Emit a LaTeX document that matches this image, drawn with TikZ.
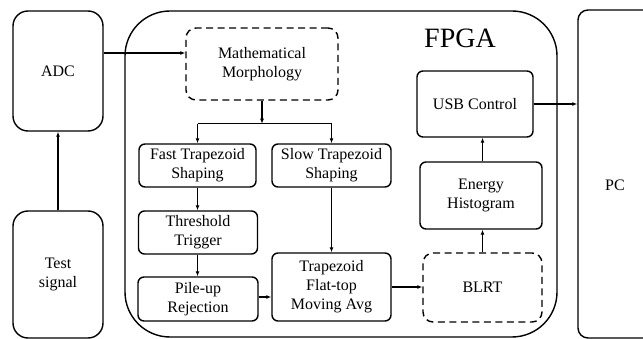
\documentclass[tikz,border=0pt]{standalone}
\usepackage{fontspec}
\setmainfont{Liberation Serif}
\usetikzlibrary{arrows.meta,calc}
\begin{document}
\begin{tikzpicture}[x=1pt,y=-1pt,
  box/.style={draw,line width=1.4pt,rounded corners=6pt,align=center,inner sep=0pt,
    font=\fontsize{16}{19}\selectfont},
  dbox/.style={box,dash pattern=on 7pt off 4.5pt,rounded corners=10pt},
  arr/.style={line width=1.3pt,-{Latex[length=5pt,width=4pt]}},
  ln/.style={line width=1.3pt}]
\useasboundingbox (0,0) rectangle (643,339);
\begin{scope}
\clip (0,0) rectangle (643,339);
\node[box,rounded corners=10pt,minimum width=100pt,minimum height=328pt] (PC) at (628,174) {};
\end{scope}
\node[font=\fontsize{16}{19}\selectfont] (PClabel) at (615,185) {PC};
\node[box,rounded corners=15pt,minimum width=90pt,minimum height=120pt] (ADC) at (58,71) {ADC};
\node[box,rounded corners=15pt,minimum width=90pt,minimum height=127pt] (Test) at (58,274.5) {Test\\signal};
\node[box,rounded corners=45pt,minimum width=432pt,minimum height=326pt] (FPGA) at (341,174) {};
\node[font=\fontsize{28}{32}\selectfont] (FPGAlabel) at (460,38) {FPGA};
\node[dbox,minimum width=152pt,minimum height=72pt] (MM) at (262,64) {Mathematical\\Morphology};
\node[box,minimum width=117pt,minimum height=43pt] (Fast) at (197.5,165.5) {Fast Trapezoid\\Shaping};
\node[box,minimum width=119pt,minimum height=43pt] (Slow) at (331.5,165.5) {Slow Trapezoid\\Shaping};
\node[box,minimum width=119pt,minimum height=43pt] (Thr) at (198,232.5) {Threshold\\Trigger};
\node[box,minimum width=120pt,minimum height=44pt] (Pile) at (198,299) {Pile-up\\Rejection};
\node[box,minimum width=119pt,minimum height=68pt] (TFMA) at (331.5,287) {Trapezoid\\Flat-top\\Moving Avg};
\node[dbox,minimum width=119pt,minimum height=69pt] (BLRT) at (482.5,287.5) {BLRT};
\node[box,minimum width=122pt,minimum height=67pt] (Energy) at (481,195.5) {Energy\\Histogram};
\node[box,minimum width=116pt,minimum height=66pt] (USB) at (475,104) {USB Control};
% connectors
\draw[arr] ([yshift=18pt]ADC.east) -- ([yshift=18pt]ADC.east -| MM.west);
\draw[arr] (Test.north) -- (ADC.south);
\coordinate (split) at ($(MM.south)+(0,23)$);
\draw[arr] (MM.south) -- (split);
\draw[ln] (Fast.north |- split) -- (Slow.north |- split);
\draw[arr] (Fast.north |- split) -- (Fast.north);
\draw[arr] (Slow.north |- split) -- (Slow.north);
\draw[arr] (Fast.south) -- (Fast.south |- Thr.north);
\draw[arr] (Fast.south |- Thr.south) -- (Fast.south |- Pile.north);
\draw[arr] ([yshift=2pt]Pile.east) -- ([yshift=2pt]Pile.east -| TFMA.west);
\draw[arr] (Slow.south) -- (Slow.south |- TFMA.north);
\draw[arr] (TFMA.east) -- (TFMA.east -| BLRT.west);
\draw[arr] (BLRT.north) -- (BLRT.north |- Energy.south);
\draw[arr] (BLRT.north |- Energy.north) -- (BLRT.north |- USB.south);
\draw[arr] (USB.east) -- (USB.east -| PC.west);
\end{tikzpicture}
\end{document}
